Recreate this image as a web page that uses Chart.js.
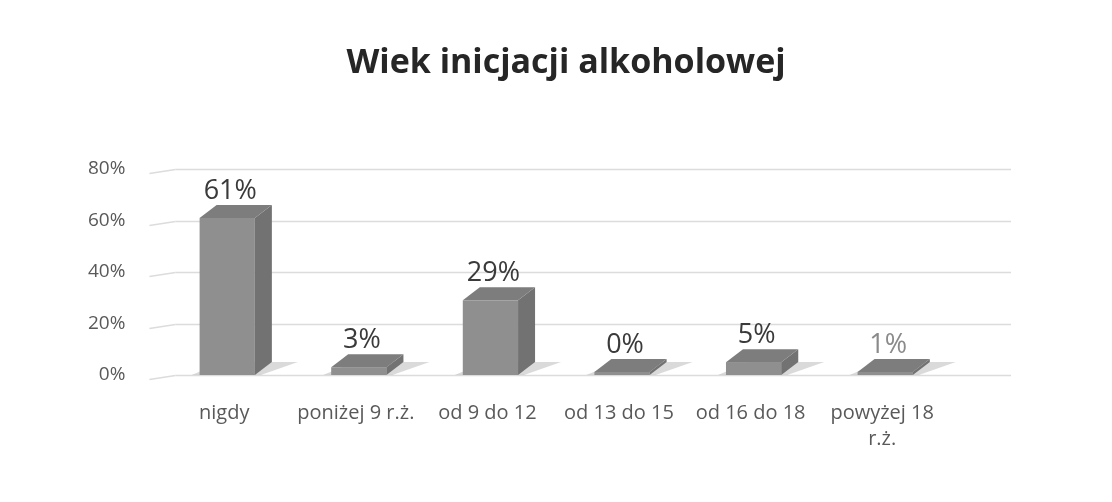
<!DOCTYPE html>
<html>
<head>
<meta charset="utf-8">
<script src="https://cdn.jsdelivr.net/npm/chart.js@4/dist/chart.umd.min.js"></script>
<style>
  html, body { margin: 0; padding: 0; background: #fff; }
  #wrap { width: 1112px; height: 502px; }
</style>
</head>
<body>
<div id="wrap"><canvas id="ageChart" width="1112" height="502"></canvas></div>
<script>
const chartTitle = 'Wiek inicjacji alkoholowej';
const categories = ['nigdy', 'poniżej 9 r.ż.', 'od 9 do 12', 'od 13 do 15', 'od 16 do 18', ['powyżej 18', 'r.ż.']];
const shares = [61, 3, 29, 0, 5, 1];
const yTicks = [0, 20, 40, 60, 80];

const FONT = '"Open Sans", "DejaVu Sans", sans-serif';

// fake 3D look: top and side faces, floor shadow, grid running past the plot
const pseudo3d = {
  id: 'pseudo3d',
  beforeDatasetsDraw(chart) {
    const { ctx, chartArea, scales } = chart;
    ctx.save();
    // title, centred where the original had it
    ctx.font = 'bold 34px ' + FONT;
    ctx.fillStyle = '#262626';
    ctx.textAlign = 'center';
    ctx.textBaseline = 'alphabetic';
    ctx.fillText(chartTitle, 566, 73);

    ctx.strokeStyle = '#dcdcdc';
    ctx.lineWidth = 1.5;
    yTicks.forEach(v => {
      const y = Math.round(scales.y.getPixelForValue(v)) + 0.5;
      ctx.beginPath();
      ctx.moveTo(chartArea.left + 14, y);
      ctx.lineTo(chartArea.right + 60, y);
      ctx.stroke();
      // side wall edge
      ctx.beginPath();
      ctx.moveTo(chartArea.left - 12, y + 4);
      ctx.lineTo(chartArea.left + 14, y);
      ctx.stroke();
    });
    ctx.restore();
  },
  afterDatasetsDraw(chart) {
    const { ctx } = chart;
    const meta = chart.getDatasetMeta(0);
    const dx = 17, dy = 13;
    ctx.save();
    meta.data.forEach((bar, i) => {
      const half = bar.width / 2;
      const l = bar.x - half, r = bar.x + half;
      const top = Math.min(bar.y, bar.base - 3);
      const base = bar.base;
      // floor shadow
      ctx.fillStyle = 'rgba(150,150,150,0.35)';
      ctx.beginPath();
      ctx.moveTo(l - 8, base);
      ctx.lineTo(r + 6, base);
      ctx.lineTo(r + dx + 26, base - dy);
      ctx.lineTo(l + dx + 6, base - dy);
      ctx.closePath();
      ctx.fill();
      // front face
      ctx.fillStyle = '#8f8f8f';
      ctx.fillRect(l, top, bar.width, base - top);
      // side
      ctx.fillStyle = '#727272';
      ctx.beginPath();
      ctx.moveTo(r, top);
      ctx.lineTo(r + dx, top - dy);
      ctx.lineTo(r + dx, base - dy);
      ctx.lineTo(r, base);
      ctx.closePath();
      ctx.fill();
      // top
      ctx.fillStyle = '#7d7d7d';
      ctx.beginPath();
      ctx.moveTo(l, top);
      ctx.lineTo(l + dx, top - dy);
      ctx.lineTo(r + dx, top - dy);
      ctx.lineTo(r, top);
      ctx.closePath();
      ctx.fill();
      // value label
      ctx.font = '27px ' + FONT;
      ctx.fillStyle = i === 5 ? '#8a8a8a' : '#3a3a3a';
      ctx.textAlign = 'center';
      ctx.textBaseline = 'alphabetic';
      ctx.fillText(shares[i] + '%', bar.x + 3, top - dy - 6);
    });
    ctx.restore();
  }
};

new Chart(document.getElementById('ageChart'), {
  type: 'bar',
  data: {
    labels: categories,
    datasets: [{
      data: shares,
      backgroundColor: 'rgba(0,0,0,0)',
      borderWidth: 0,
      barPercentage: 0.42,
      categoryPercentage: 1
    }]
  },
  plugins: [pseudo3d],
  options: {
    responsive: false,
    animation: false,
    layout: { padding: { top: 169, left: 60, right: 161, bottom: 33 } },
    plugins: {
      legend: { display: false },
      tooltip: { enabled: false },
      title: { display: false }
    },
    scales: {
      y: {
        min: 0,
        max: 80,
        afterBuildTicks(axis) { axis.ticks = yTicks.map(v => ({ value: v })); },
        grid: { display: false },
        border: { display: false },
        ticks: {
          padding: 28,
          color: '#595959',
          font: { family: FONT, size: 19 },
          callback: v => v + '%'
        }
      },
      x: {
        grid: { display: false },
        border: { display: false },
        ticks: {
          padding: 17,
          labelOffset: -3,
          color: '#595959',
          font: { family: FONT, size: 20, lineHeight: 1.3 },
          maxRotation: 0
        }
      }
    }
  }
});
</script>
</body>
</html>
